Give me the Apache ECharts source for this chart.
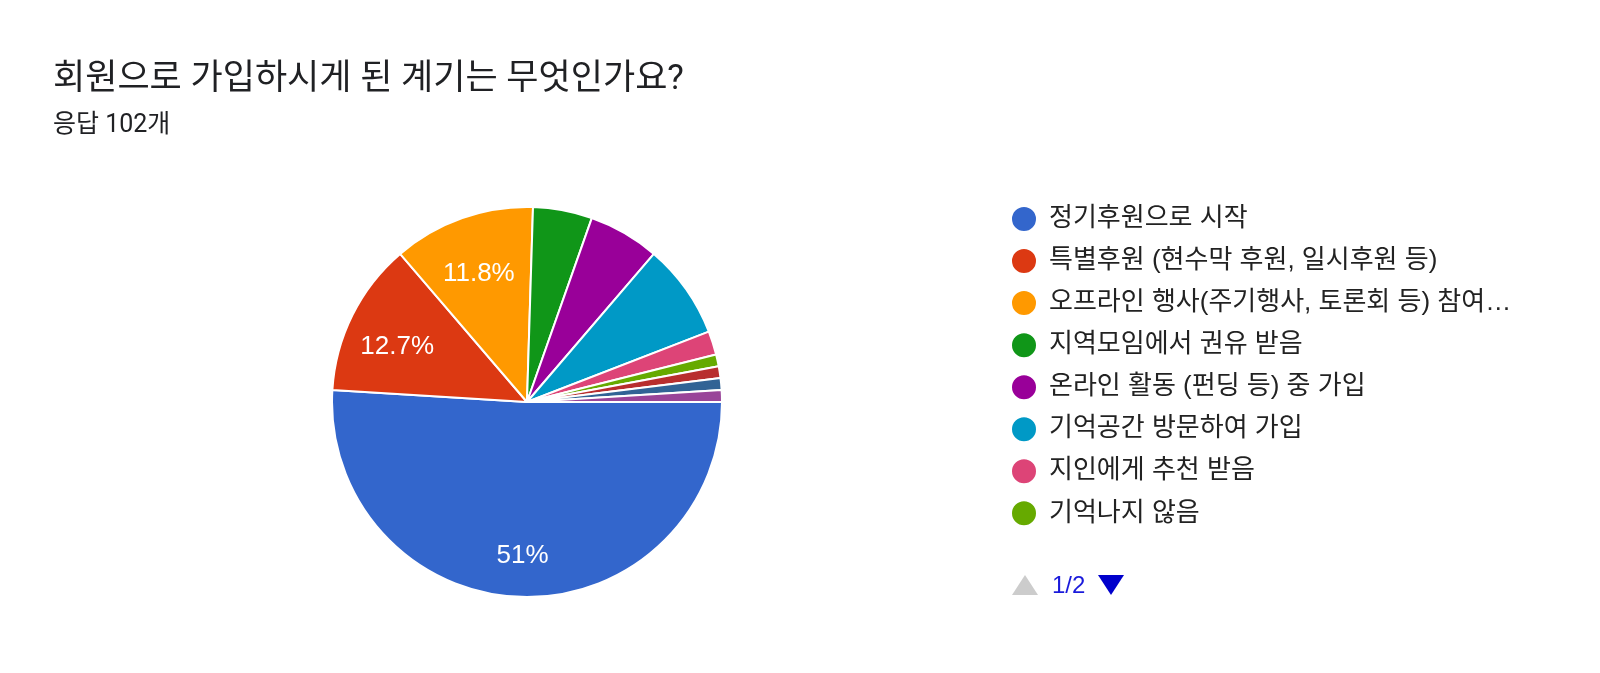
<!DOCTYPE html>
<html>
<head>
<meta charset="utf-8">
<script src="https://cdn.jsdelivr.net/npm/echarts@6/dist/echarts.min.js"></script>
<style>
html,body{margin:0;padding:0;background:#fff;}
#chart{width:1600px;height:673px;}
</style>
</head>
<body>
<div id="chart"></div>
<script>
const titleText = '회원으로 가입하시게 된 계기는 무엇인가요?';
const subtitleText = '응답 102개';
const categories = [
  '정기후원으로 시작',
  '특별후원 (현수막 후원, 일시후원 등)',
  '오프라인 행사(주기행사, 토론회 등) 참여하여 가입',
  '지역모임에서 권유 받음',
  '온라인 활동 (펀딩 등) 중 가입',
  '기억공간 방문하여 가입',
  '지인에게 추천 받음',
  '기억나지 않음',
  '기타 1',
  '기타 2',
  '기타 3'
];
const values = [52, 13, 12, 5, 6, 8, 2, 1, 1, 1, 1];
const colors = ['#3366cc', '#dc3912', '#ff9900', '#109618', '#990099', '#0099c6', '#dd4477', '#66aa00', '#b82e2e', '#316395', '#994499'];
const legendPageText = '1/2';
const legendPageSize = 8;

const total = values.reduce((a, b) => a + b, 0);
const data = categories.map((name, i) => ({ name, value: values[i], itemStyle: { color: colors[i] } }));
const labelData = categories.map((name, i) => ({ name, value: values[i] }));

const chart = echarts.init(document.getElementById('chart'));
const cjk = "Roboto, 'Noto Sans CJK KR', sans-serif";
chart.setOption({
  backgroundColor: '#fff',
  animation: false,
  title: [
    { text: titleText, left: 48, top: 58, textStyle: { fontFamily: cjk, fontSize: 35, fontWeight: 'normal', color: '#202124' } },
    { text: subtitleText, left: 48, top: 108, textStyle: { fontFamily: cjk, fontSize: 25, fontWeight: 'normal', color: '#202124' } }
  ],
  legend: {
    orient: 'vertical',
    left: 1005,
    top: 200,
    icon: 'circle',
    itemWidth: 40,
    itemHeight: 26,
    itemGap: 14.05,
    data: categories.slice(0, legendPageSize),
    selectedMode: false,
    textStyle: {
      fontFamily: "'Liberation Sans', 'Noto Sans CJK KR', sans-serif",
      fontSize: 26,
      lineHeight: 26,
      color: '#222222',
      width: 480,
      overflow: 'truncate',
      ellipsis: '…'
    }
  },
  graphic: [
    { type: 'polygon', shape: { points: [[1012, 595], [1038, 595], [1025, 575]] }, style: { fill: '#cccccc' }, silent: true },
    { type: 'text', x: 1052, y: 586, style: { text: legendPageText, fontFamily: "'Liberation Sans', sans-serif", fontSize: 24, fill: '#1a1adb', verticalAlign: 'middle', align: 'left' }, silent: true },
    { type: 'polygon', shape: { points: [[1098, 575], [1124, 575], [1111, 595]] }, style: { fill: '#0000cc' }, silent: true }
  ],
  series: [
    {
      type: 'pie',
      center: [527, 402],
      radius: 195,
      startAngle: 0,
      clockwise: true,
      avoidLabelOverlap: false,
      label: { show: false },
      labelLine: { show: false },
      emphasis: { disabled: true },
      itemStyle: { borderColor: '#ffffff', borderWidth: 2 },
      data: data
    },
    {
      type: 'pie',
      center: [527, 402],
      radius: [89, 195],
      startAngle: 0,
      clockwise: true,
      silent: true,
      avoidLabelOverlap: false,
      emphasis: { disabled: true },
      itemStyle: { color: 'rgba(0,0,0,0)' },
      labelLine: { show: false },
      label: {
        show: true,
        position: 'inside',
        offset: [0, 9],
        color: '#ffffff',
        fontFamily: "'Liberation Sans', sans-serif",
        fontSize: 26,
        formatter: function (p) {
          const pct = Math.round(p.value / total * 1000) / 10;
          return pct >= 10 ? pct + '%' : '';
        }
      },
      data: labelData
    }
  ]
});
</script>
</body>
</html>
